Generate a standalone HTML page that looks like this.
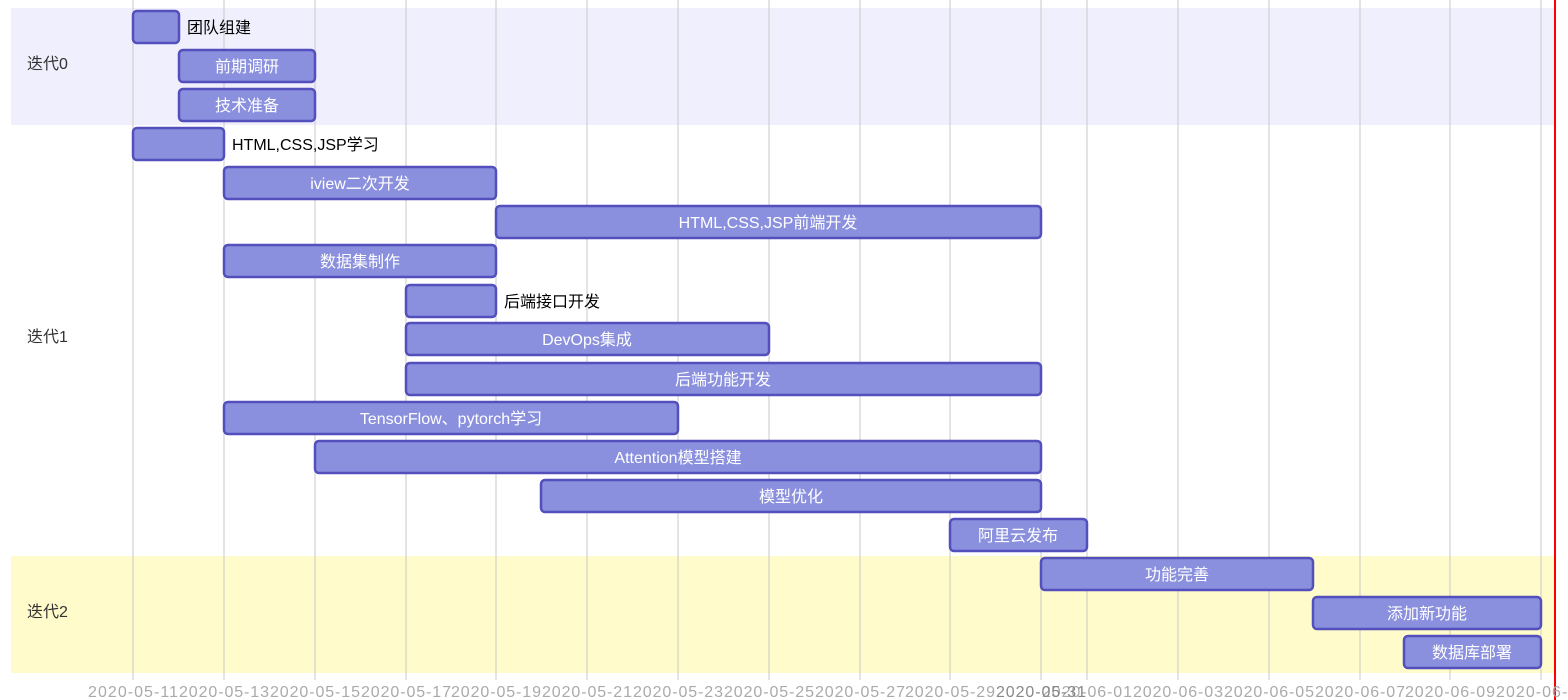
<!DOCTYPE html>
<html><head><meta charset="utf-8"><style>
html,body{margin:0;padding:0;background:#fff;}
svg{display:block;}
text{font-family:"Liberation Sans","Noto Sans CJK SC",sans-serif;}
.in{fill:#fff;font-size:16px;text-anchor:middle;}
.out{fill:#000;font-size:16px;}
.ax{fill:#aaa;font-size:16px;text-anchor:middle;}
.sec{fill:#333;font-size:16px;}
rect.b{fill:#8a90dd;stroke:#534fbc;stroke-width:2.5;}
</style></head><body>
<svg width="1568" height="700" viewBox="0 0 1568 700">
<rect x="11" y="8" width="1545" height="117" fill="#efeffd"/>
<rect x="11" y="556" width="1545" height="117" fill="#fffbca"/>
<g stroke="#c8c8c8" stroke-width="1">
<line x1="133" y1="0" x2="133" y2="680"/><line x1="224" y1="0" x2="224" y2="680"/>
<line x1="315" y1="0" x2="315" y2="680"/><line x1="406" y1="0" x2="406" y2="680"/>
<line x1="496" y1="0" x2="496" y2="680"/><line x1="587" y1="0" x2="587" y2="680"/>
<line x1="678" y1="0" x2="678" y2="680"/><line x1="769" y1="0" x2="769" y2="680"/>
<line x1="860" y1="0" x2="860" y2="680"/><line x1="950" y1="0" x2="950" y2="680"/>
<line x1="1041" y1="0" x2="1041" y2="680"/><line x1="1087" y1="0" x2="1087" y2="680"/>
<line x1="1178" y1="0" x2="1178" y2="680"/><line x1="1269" y1="0" x2="1269" y2="680"/>
<line x1="1360" y1="0" x2="1360" y2="680"/><line x1="1450" y1="0" x2="1450" y2="680"/>
<line x1="1541" y1="0" x2="1541" y2="680"/>
</g>
<text class="sec" x="27" y="69">迭代0</text>
<text class="sec" x="27" y="342">迭代1</text>
<text class="sec" x="27" y="617">迭代2</text>

<rect class="b" x="133" y="11" width="46" height="32" rx="4"/><text class="out" x="187" y="33">团队组建</text>
<rect class="b" x="179" y="50" width="136" height="32" rx="4"/><text class="in" x="247" y="72">前期调研</text>
<rect class="b" x="179" y="89" width="136" height="32" rx="4"/><text class="in" x="247" y="111">技术准备</text>
<rect class="b" x="133" y="128" width="91" height="32" rx="4"/><text class="out" x="232" y="150">HTML,CSS,JSP学习</text>
<rect class="b" x="224" y="167" width="272" height="32" rx="4"/><text class="in" x="360" y="189">iview二次开发</text>
<rect class="b" x="496" y="206" width="545" height="32" rx="4"/><text class="in" x="768" y="228">HTML,CSS,JSP前端开发</text>
<rect class="b" x="224" y="245" width="272" height="32" rx="4"/><text class="in" x="360" y="267">数据集制作</text>
<rect class="b" x="406" y="285" width="90" height="32" rx="4"/><text class="out" x="504" y="307">后端接口开发</text>
<rect class="b" x="406" y="323" width="363" height="32" rx="4"/><text class="in" x="587" y="345">DevOps集成</text>
<rect class="b" x="406" y="363" width="635" height="32" rx="4"/><text class="in" x="723" y="385">后端功能开发</text>
<rect class="b" x="224" y="402" width="454" height="32" rx="4"/><text class="in" x="451" y="424">TensorFlow、pytorch学习</text>
<rect class="b" x="315" y="441" width="726" height="32" rx="4"/><text class="in" x="678" y="463">Attention模型搭建</text>
<rect class="b" x="541" y="480" width="500" height="32" rx="4"/><text class="in" x="791" y="502">模型优化</text>
<rect class="b" x="950" y="519" width="137" height="32" rx="4"/><text class="in" x="1018" y="541">阿里云发布</text>
<rect class="b" x="1041" y="558" width="272" height="32" rx="4"/><text class="in" x="1177" y="580">功能完善</text>
<rect class="b" x="1313" y="597" width="228" height="32" rx="4"/><text class="in" x="1427" y="619">添加新功能</text>
<rect class="b" x="1404" y="636" width="137" height="32" rx="4"/><text class="in" x="1472" y="658">数据库部署</text>

<line x1="1555" y1="0" x2="1555" y2="700" stroke="#f00" stroke-width="2"/>
<g class="ax">
<text x="133" y="697" textLength="90">2020-05-11</text><text x="224" y="697" textLength="90">2020-05-13</text>
<text x="315" y="697" textLength="90">2020-05-15</text><text x="406" y="697" textLength="90">2020-05-17</text>
<text x="496" y="697" textLength="90">2020-05-19</text><text x="587" y="697" textLength="90">2020-05-21</text>
<text x="678" y="697" textLength="90">2020-05-23</text><text x="769" y="697" textLength="90">2020-05-25</text>
<text x="860" y="697" textLength="90">2020-05-27</text><text x="950" y="697" textLength="90">2020-05-29</text>
<text x="1087" y="697" textLength="90">2020-06-01</text><text x="1041" y="697" textLength="90" style="fill:#888">2020-05-31</text>
<text x="1178" y="697" textLength="90">2020-06-03</text><text x="1269" y="697" textLength="90">2020-06-05</text>
<text x="1360" y="697" textLength="90">2020-06-07</text><text x="1450" y="697" textLength="90">2020-06-09</text>
<text x="1541" y="697" textLength="90">2020-06-11</text>
</g>
</svg>
</body></html>
